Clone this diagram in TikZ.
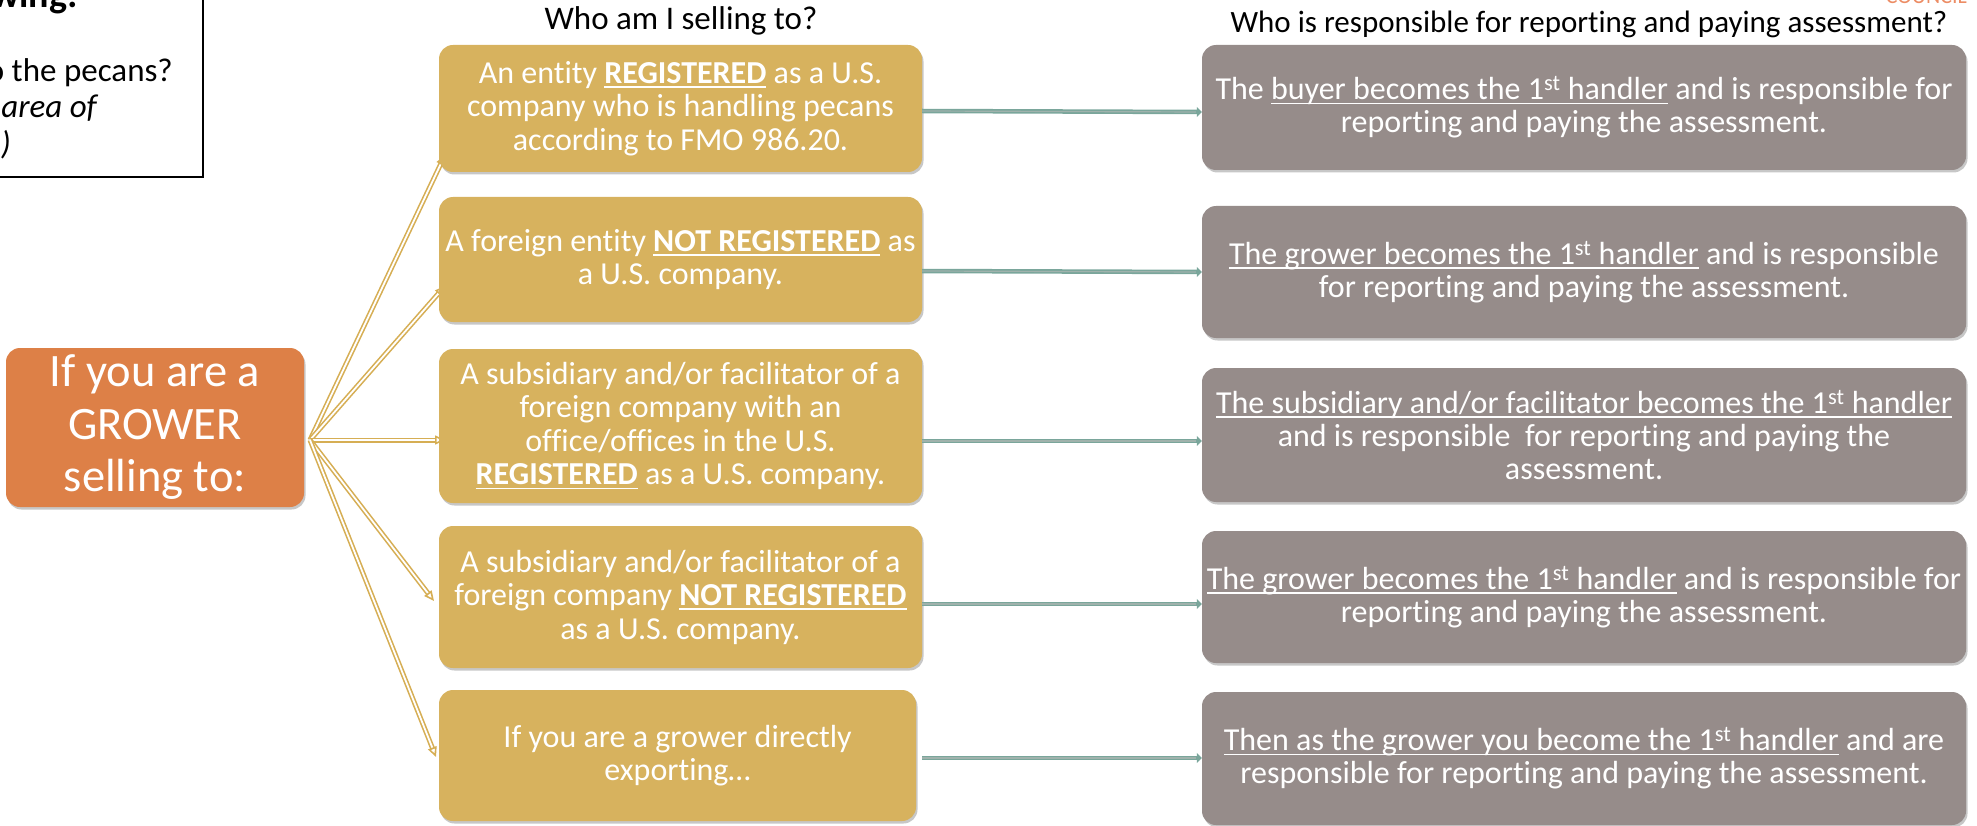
\documentclass[tikz,border=0pt]{standalone}
\usepackage{fontspec}
\setmainfont{Carlito}[Ligatures=NoCommon]
\usetikzlibrary{arrows.meta,shadows}
\newcommand{\myul}[1]{\leavevmode\setbox0=\hbox{#1}\rlap{\rule[-0.14em]{\wd0}{0.055em}}\box0\relax}
\definecolor{goldbox}{RGB}{215,178,94}
\definecolor{graybox}{RGB}{150,140,138}
\definecolor{orangebox}{RGB}{221,128,71}
\definecolor{tealline}{RGB}{122,166,155}
\definecolor{tealmid}{RGB}{160,178,172}
\definecolor{fangold}{RGB}{214,174,84}
\definecolor{srcorange}{RGB}{236,140,100}
\tikzset{
  boxbase/.style={rounded corners=14pt, inner sep=0pt, text=white, align=center,
    drop shadow={shadow xshift=1.5pt, shadow yshift=-2.5pt, opacity=0.22, fill=black}},
  goldnode/.style={boxbase, fill=goldbox, font=\fontsize{32}{33.5}\selectfont},
  graynode/.style={boxbase, fill=graybox, font=\fontsize{32}{33}\selectfont, minimum width=764pt},
  orangenode/.style={boxbase, fill=orangebox, font=\fontsize{46.5}{52.5}\selectfont},
  fanline/.style={draw=fangold, line width=1.6pt, double=white, double distance=1.8pt,
    -{Triangle[open, length=10pt, width=9pt]}},
  connline/.style={draw=tealline, line width=4.5pt, -{Triangle[length=5pt, width=10pt]}},
  connmid/.style={draw=tealmid, line width=1.2pt, shorten >=6pt},
  headtext/.style={inner sep=0pt},
  notetext/.style={font=\fontsize{33}{36}\selectfont, inner sep=0pt},
}
\begin{document}
\begin{tikzpicture}[x=1pt,y=-1pt]
\useasboundingbox (0,0) rectangle (1977,826);
% top-left partial note box
\draw[black, line width=2pt] (-20,-20) rectangle (203,177);
\node[notetext, font=\fontsize{38}{40}\selectfont\bfseries, anchor=base east] (n0) at (78,8) {wing:};
\node[notetext, anchor=base east] (n1) at (173,82) {o the pecans?};
\node[notetext, anchor=base east] (n2) at (97,118) {\itshape area of};
\node[notetext, anchor=base east] (n3) at (11,155) {\itshape ?)};
% partial source word
\node[font=\fontsize{22}{24}\selectfont, text=srcorange, inner sep=0pt, anchor=base east] (src) at (1967,4) {COUNCIL};
% headers
\node[headtext, font=\fontsize{33}{36}\selectfont] (h1) at (681,21) {Who am I selling to?};
\node[headtext, font=\fontsize{31}{36}\selectfont] (h2) at (1589,24) {Who is responsible for reporting and paying assessment?};
% fan origin and ends
\coordinate (fo) at (310,440);
\coordinate (e1) at (445,155);
\coordinate (e2) at (445,286);
\coordinate (e3) at (445,440);
\coordinate (e4) at (434,601);
\coordinate (e5) at (436,757);
\draw[fanline] (fo) -- (e1);
\draw[fanline] (fo) -- (e2);
\draw[fanline] (fo) -- (e3);
\draw[fanline] (fo) -- (e4);
\draw[fanline] (fo) -- (e5);
% orange box
\node[orangenode, minimum width=298pt, minimum height=159pt] (grower) at (155,427.5)
  {If you are a\\GROWER\\selling to:};
% gold boxes
\node[goldnode, minimum width=483pt, minimum height=127pt] (b1) at (680.5,108.5)
  {An entity \textbf{\myul{REGISTERED}} as a U.S.\\company who is handling pecans\\according to FMO 986.20.};
\node[goldnode, minimum width=483pt, minimum height=125pt] (b2) at (680.5,259.5)
  {A foreign entity \textbf{\myul{NOT REGISTERED}} as\\a U.S. company.};
\node[goldnode, minimum width=483pt, minimum height=154pt] (b3) at (680.5,426)
  {A subsidiary and/or facilitator of a\\foreign company with an\\office/offices in the U.S.\\\textbf{\myul{REGISTERED}} as a U.S. company.};
\node[goldnode, minimum width=483pt, minimum height=142pt] (b4) at (680.5,597)
  {A subsidiary and/or facilitator of a\\foreign company \textbf{\myul{NOT REGISTERED}}\\as a U.S. company.};
\node[goldnode, minimum width=477pt, minimum height=131pt] (b5) at (677.5,755.5)
  {If you are a grower directly\\exporting…};
% gray boxes
\node[graynode, minimum height=125pt] (g1) at (1584,107.5)
  {The \myul{buyer becomes the 1\textsuperscript{st} handler} and is responsible for\\reporting and paying the assessment.};
\node[graynode, minimum height=132pt] (g2) at (1584,272)
  {\myul{The grower becomes the 1\textsuperscript{st} handler} and is responsible\\for reporting and paying the assessment.};
\node[graynode, minimum height=134pt] (g3) at (1584,435)
  {\myul{The subsidiary and/or facilitator becomes the 1\textsuperscript{st} handler}\\and is responsible\ \ for reporting and paying the\\assessment.};
\node[graynode, minimum height=132pt] (g4) at (1584,597)
  {\myul{The grower becomes the 1\textsuperscript{st} handler} and is responsible for\\reporting and paying the assessment.};
\node[graynode, minimum height=133pt] (g5) at (1584,758.5)
  {\myul{Then as the grower you become the 1\textsuperscript{st} handler} and are\\responsible for reporting and paying the assessment.};
% teal connectors
\draw[connline] (b1.east |- 0,111) -- (g1.west |- 0,112);
\draw[connline] (b2.east |- 0,271) -- (g2.west |- 0,272);
\draw[connline] (b3.east |- 0,441) -- (g3.west |- 0,441);
\draw[connline] (b4.east |- 0,604) -- (g4.west |- 0,604);
\draw[connline] ([xshift=6pt]b5.east |- 0,758) -- (g5.west |- 0,758);
\draw[connmid] (b1.east |- 0,111) -- (g1.west |- 0,112);
\draw[connmid] (b2.east |- 0,271) -- (g2.west |- 0,272);
\draw[connmid] (b3.east |- 0,441) -- (g3.west |- 0,441);
\draw[connmid] (b4.east |- 0,604) -- (g4.west |- 0,604);
\draw[connmid] ([xshift=6pt]b5.east |- 0,758) -- (g5.west |- 0,758);
\end{tikzpicture}
\end{document}
